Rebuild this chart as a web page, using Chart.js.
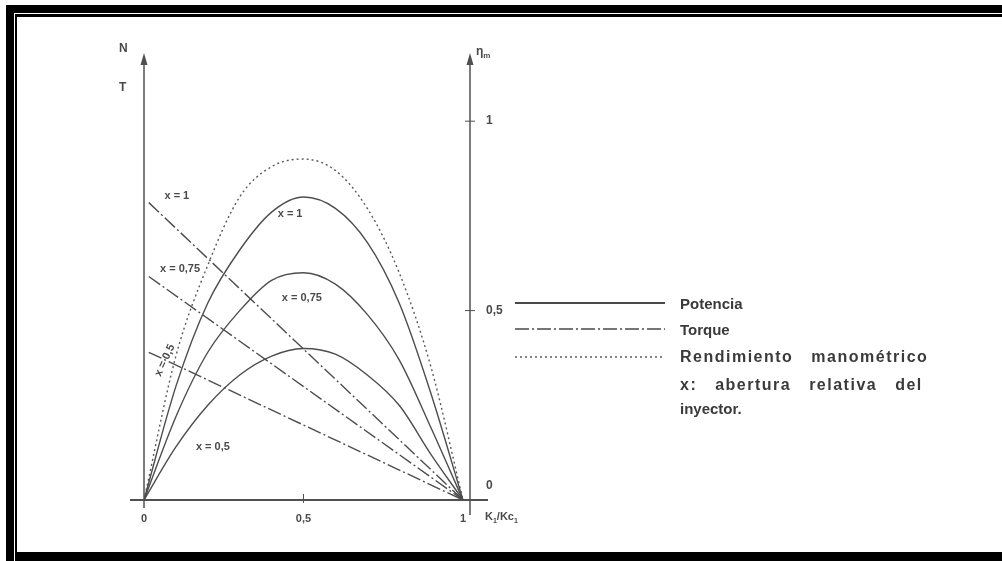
<!DOCTYPE html>
<html lang="es">
<head>
<meta charset="utf-8">
<title>Potencia, torque y rendimiento</title>
<script src="https://cdn.jsdelivr.net/npm/chart.js@4.4.1/dist/chart.umd.min.js"></script>
<style>
    html, body { margin: 0; padding: 0; background: #fff; }
    #lienzo { position: relative; width: 1002px; height: 561px; overflow: hidden; font-family: 'Liberation Sans', Arial, sans-serif; color: #3a3a3a; }
    #lienzo canvas { position: absolute; left: 0; top: 0; }
    .marco { position: absolute; background: #000; }
    .etiqueta { position: absolute; font-size: 11px; font-weight: bold; color: #4a4a4a; white-space: nowrap; transform: translate(-50%, -50%); }
    .eje { position: absolute; font-size: 12px; font-weight: bold; color: #4a4a4a; white-space: nowrap; }
    .leyenda { position: absolute; left: 680px; font-size: 15px; font-weight: bold; color: #3a3a3a; white-space: nowrap; transform: translateY(-50%); }
    .leyenda.ancha { font-size: 16px; letter-spacing: 1.5px; word-spacing: 12px; }
    #muestras { position: absolute; left: 0; top: 0; }
</style>
</head>
<body>
<div id="lienzo">
    <canvas id="grafico" width="1002" height="561"></canvas>

    <div class="marco" style="left:6px; right:0; top:5px; height:8px;"></div>
    <div class="marco" style="left:15px; right:0; top:14px; height:3px;"></div>
    <div class="marco" style="left:6px; width:8px; top:5px; bottom:0;"></div>
    <div class="marco" style="left:15px; width:2px; top:14px; bottom:0;"></div>
    <div class="marco" style="left:15px; right:0; top:552px; bottom:0;"></div>

    <div class="eje" style="left:119px; top:41px;">N</div>
    <div class="eje" style="left:119px; top:80px;">T</div>
    <div class="eje" style="left:476px; top:44px;">η<sub style="font-size:8px;">m</sub></div>
    <div class="eje" style="left:485px; top:510px; font-size:11px;">K<sub style="font-size:7px;">1</sub>/Kc<sub style="font-size:7px;">1</sub></div>

    <svg id="muestras" width="1002" height="561">
        <line x1="515" y1="303" x2="665" y2="303" stroke="#4a4a4a" stroke-width="2"></line>
        <line x1="515" y1="329" x2="665" y2="329" stroke="#4a4a4a" stroke-width="1.5" stroke-dasharray="14 3 2 3"></line>
        <line x1="515" y1="357" x2="665" y2="357" stroke="#5a5a5a" stroke-width="1.5" stroke-dasharray="2 3"></line>
    </svg>
    <div class="leyenda" style="top:303px;">Potencia</div>
    <div class="leyenda" style="top:329px;">Torque</div>
    <div class="leyenda ancha" style="top:357px;">Rendimiento manométrico</div>
    <div class="leyenda ancha" style="top:385px;">x: abertura relativa del</div>
    <div class="leyenda" style="top:408px;">inyector.</div>
</div>

<script>
    // velocidad relativa K1/Kc1
    const velocidades = [0, 0.1, 0.2, 0.3, 0.4, 0.5, 0.6, 0.7, 0.8, 0.9, 1];
    const potenciaX1 = [0, 0.30, 0.52, 0.66, 0.76, 0.80, 0.77, 0.68, 0.52, 0.28, 0];
    const potenciaX075 = [0, 0.22, 0.39, 0.50, 0.58, 0.60, 0.57, 0.49, 0.37, 0.19, 0];
    const potenciaX05 = [0, 0.14, 0.25, 0.33, 0.38, 0.40, 0.385, 0.33, 0.25, 0.12, 0];
    const rendimiento = [0, 0.38, 0.62, 0.80, 0.88, 0.90, 0.87, 0.77, 0.60, 0.35, 0];

    // rectas de torque
    const torqueVelocidades = [0.015, 1];
    const torqueX1 = [0.785, 0];
    const torqueX075 = [0.59, 0];
    const torqueX05 = [0.39, 0];

    const ticksX = [0, 0.5, 1];
    const ticksRendimiento = [0, 0.5, 1];

    const etiquetasTexto = ['x = 1', 'x = 1', 'x = 0,75', 'x = 0,75', 'x = 0,5', 'x = 0,5'];
    const etiquetasX = [0.103, 0.458, 0.113, 0.495, 0.062, 0.216];
    const etiquetasY = [0.805, 0.757, 0.612, 0.536, 0.37, 0.142];
    const etiquetasGiro = [0, 0, 0, 0, -65, 0];

    const COLOR_LINEA = '#4d4d4d';
    const FUENTE = "'Liberation Sans', Arial, sans-serif";

    function puntos(xs, ys) {
        return xs.map((x, i) => ({ x, y: ys[i] }));
    }

    function curva(datos, estilo) {
        return Object.assign({
            data: datos,
            borderColor: COLOR_LINEA,
            borderWidth: 1.4,
            pointRadius: 0,
            fill: false,
            cubicInterpolationMode: 'monotone',
        }, estilo || {});
    }

    function formatoDecimal(valor) {
        return String(valor).replace('.', ',');
    }

    const ejesPlugin = {
        id: 'ejes',
        beforeDatasetsDraw(chart) {
            const { ctx, chartArea, scales } = chart;
            const x0 = scales.x.getPixelForValue(0);
            const base = scales.y.getPixelForValue(0);
            const derecha = chartArea.right;
            const arriba = chartArea.top;

            ctx.save();
            ctx.strokeStyle = '#505050';
            ctx.fillStyle = '#505050';

            ctx.lineWidth = 2;
            linea(ctx, x0 - 14, base, derecha + 18, base);

            ctx.lineWidth = 1.5;
            linea(ctx, x0, base + 8, x0, arriba + 8);
            linea(ctx, derecha, base + 15, derecha, arriba + 8);
            flecha(ctx, x0, arriba);
            flecha(ctx, derecha, arriba);

            ctx.lineWidth = 1;
            ticksX.filter((v) => v > 0 && v < 1).forEach((v) => {
                const px = scales.x.getPixelForValue(v);
                linea(ctx, px, base - 6, px, base + 3);
            });
            ticksRendimiento.filter((v) => v > 0).forEach((v) => {
                const py = scales.y.getPixelForValue(v);
                linea(ctx, derecha - 5, py, derecha + 5, py);
            });
            ctx.restore();
        },
    };

    function linea(ctx, x1, y1, x2, y2) {
        ctx.beginPath();
        ctx.moveTo(x1, y1);
        ctx.lineTo(x2, y2);
        ctx.stroke();
    }

    function flecha(ctx, x, y) {
        ctx.beginPath();
        ctx.moveTo(x, y);
        ctx.lineTo(x - 3.5, y + 12);
        ctx.lineTo(x + 3.5, y + 12);
        ctx.closePath();
        ctx.fill();
    }

    const grafico = new Chart(document.getElementById('grafico'), {
        type: 'line',
        data: {
            datasets: [
                curva(puntos(velocidades, potenciaX1)),
                curva(puntos(velocidades, potenciaX075)),
                curva(puntos(velocidades, potenciaX05)),
                curva(puntos(velocidades, rendimiento), { borderDash: [2, 3], borderColor: '#5a5a5a' }),
                curva(puntos(torqueVelocidades, torqueX1), { borderDash: [14, 3, 2, 3] }),
                curva(puntos(torqueVelocidades, torqueX075), { borderDash: [14, 3, 2, 3] }),
                curva(puntos(torqueVelocidades, torqueX05), { borderDash: [14, 3, 2, 3] }),
            ],
        },
        options: {
            responsive: false,
            animation: false,
            layout: { padding: { left: 144, top: 53, right: 482, bottom: 33 } },
            plugins: { legend: { display: false }, tooltip: { enabled: false } },
            scales: {
                x: {
                    type: 'linear',
                    min: 0,
                    max: 1.022,
                    grid: { display: false },
                    border: { display: false },
                    afterBuildTicks: (escala) => { escala.ticks = ticksX.map((v) => ({ value: v })); },
                    afterFit: (escala) => { escala.height = 28; },
                    ticks: {
                        autoSkip: false,
                        maxRotation: 0,
                        padding: 4,
                        color: '#4a4a4a',
                        font: { family: FUENTE, size: 11, weight: 'bold' },
                        callback: formatoDecimal,
                    },
                },
                y: {
                    type: 'linear',
                    position: 'right',
                    min: 0,
                    max: 1.18,
                    grid: { display: false },
                    border: { display: false },
                    afterBuildTicks: (escala) => { escala.ticks = ticksRendimiento.map((v) => ({ value: v })); },
                    afterFit: (escala) => { escala.width = 50; },
                    ticks: {
                        autoSkip: false,
                        padding: 8,
                        color: '#4a4a4a',
                        font: { family: FUENTE, size: 12, weight: 'bold' },
                        // el 0 va un poco por encima del eje horizontal
                        callback: (v) => (v === 0 ? ['0', '', ''] : formatoDecimal(v)),
                    },
                },
            },
        },
        plugins: [ejesPlugin],
    });

    // etiquetas de las curvas, ubicadas con las escalas del grafico
    const lienzo = document.getElementById('lienzo');
    etiquetasTexto.forEach((texto, i) => {
        const div = document.createElement('div');
        div.className = 'etiqueta';
        div.textContent = texto;
        div.style.left = grafico.scales.x.getPixelForValue(etiquetasX[i]) + 'px';
        div.style.top = grafico.scales.y.getPixelForValue(etiquetasY[i]) + 'px';
        if (etiquetasGiro[i]) {
            div.style.transform = `translate(-50%, -50%) rotate(${etiquetasGiro[i]}deg)`;
        }
        lienzo.appendChild(div);
    });
</script>
</body>
</html>
